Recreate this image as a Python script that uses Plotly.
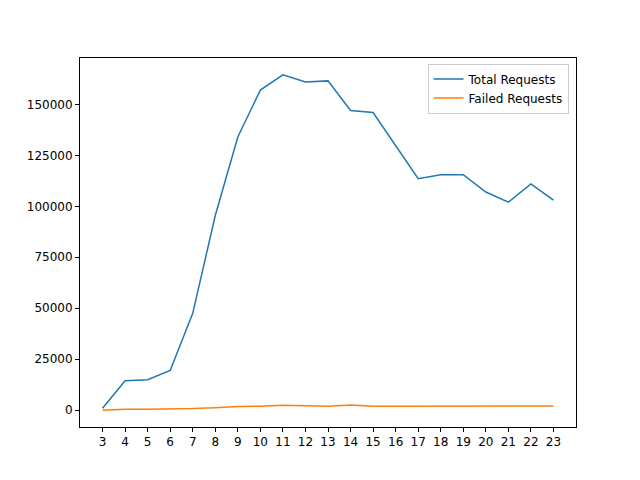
import plotly.graph_objects as go

hours = list(range(3, 24))
total_requests = [1000, 14500, 15000, 19500, 47500, 95500, 134000, 157000, 164500, 161000,
                  161500, 147000, 146000, 129500, 113500, 115500, 115500, 107000, 102000, 111000, 103000]
failed_requests = [0, 500, 500, 600, 800, 1200, 1800, 2000, 2500, 2200,
                   2000, 2600, 1900, 2000, 2000, 2000, 1900, 1900, 2000, 2100, 2100]

fig = go.Figure()
fig.add_trace(go.Scatter(x=hours, y=total_requests, mode='lines', name='Total Requests',
                         line=dict(color='#1f77b4', width=1.5)))
fig.add_trace(go.Scatter(x=hours, y=failed_requests, mode='lines', name='Failed Requests',
                         line=dict(color='#ff7f0e', width=1.5)))

# la pagina ha un margine di 8px, quindi sposto l'area del grafico
asse = dict(showline=True, linecolor='black', linewidth=1, mirror=True, showgrid=False,
            zeroline=False, ticks='outside', ticklen=4, tickcolor='black', automargin=False)
fig.update_layout(
    width=640, height=480, plot_bgcolor='white', paper_bgcolor='white',
    margin=dict(l=72, r=72, t=50, b=61),
    font=dict(family='DejaVu Sans', size=12, color='black'),
    xaxis=dict(asse, range=[2, 24], tickmode='array', tickvals=hours),
    yaxis=dict(asse, range=[-8225, 172725], tickvals=[0, 25000, 50000, 75000, 100000, 125000, 150000],
               tickformat='d'),
    legend=dict(x=0.985, y=0.985, xanchor='right', yanchor='top', bordercolor='#cccccc',
                borderwidth=1, bgcolor='white', font=dict(size=12)),
)
fig.write_html("out.html")
